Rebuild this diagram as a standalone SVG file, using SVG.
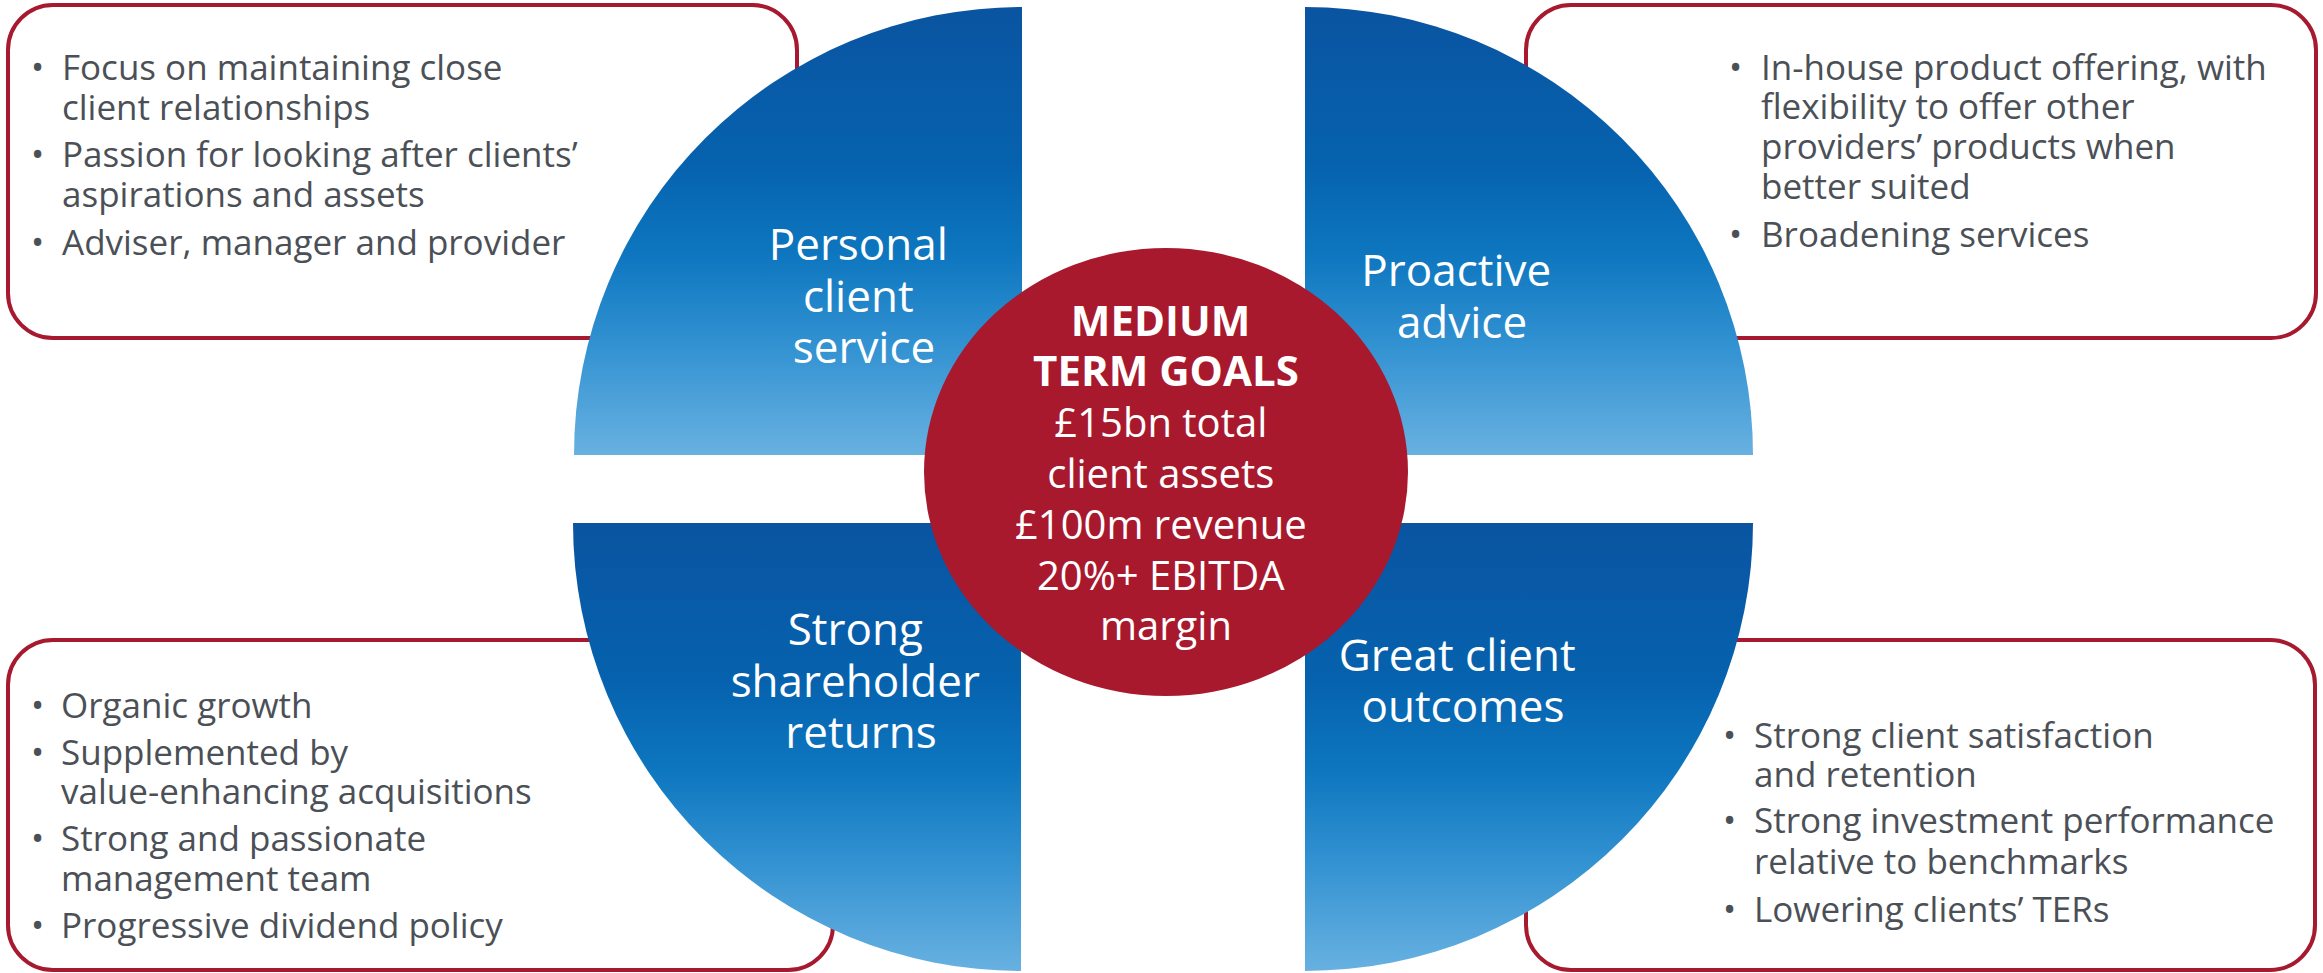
<svg xmlns="http://www.w3.org/2000/svg" width="2323" height="973" viewBox="0 0 2323 973">
  <defs>
    <linearGradient id="blueFade" x1="0" y1="0" x2="0" y2="1">
      <stop offset="0" stop-color="#0a54a1"/>
      <stop offset="0.35" stop-color="#0662ae"/>
      <stop offset="0.55" stop-color="#0d76bf"/>
      <stop offset="0.75" stop-color="#3191d1"/>
      <stop offset="1" stop-color="#68b1e1"/>
    </linearGradient>
    <style>
      .box { fill: #ffffff; stroke: #a6192e; stroke-width: 4; }
      .quad { fill: url(#blueFade); }
      .goal { fill: #a8192e; }
      .bullet { font-family: "Open Sans", "Noto Sans", sans-serif; font-size: 35px; fill: #4b5057; }
      .label { font-family: "Open Sans", "Noto Sans", sans-serif; font-size: 44px; fill: #ffffff; text-anchor: middle; }
      .goalhead { font-family: "Open Sans", "Noto Sans", sans-serif; font-size: 42px; font-weight: bold; fill: #ffffff; text-anchor: middle; }
      .goaltext { font-family: "Open Sans", "Noto Sans", sans-serif; font-size: 40px; fill: #ffffff; text-anchor: middle; }
    </style>
  </defs>

  <!-- Outlined detail boxes (sit underneath the quadrants) -->
  <g id="box-personal">
    <rect class="box" x="8" y="5" width="789" height="333" rx="45" ry="45"/>
    <text class="bullet">
      <tspan x="31" y="80">•</tspan><tspan x="62" y="80">Focus on maintaining close</tspan>
      <tspan x="62" y="120">client relationships</tspan>
      <tspan x="31" y="167">•</tspan><tspan x="62" y="167">Passion for looking after clients’</tspan>
      <tspan x="62" y="207">aspirations and assets</tspan>
      <tspan x="31" y="255">•</tspan><tspan x="62" y="255">Adviser, manager and provider</tspan>
    </text>
  </g>

  <g id="box-advice">
    <rect class="box" x="1526" y="5" width="790" height="333" rx="45" ry="45"/>
    <text class="bullet">
      <tspan x="1729" y="80">•</tspan><tspan x="1761" y="80">In-house product offering, with</tspan>
      <tspan x="1761" y="119">flexibility to offer other</tspan>
      <tspan x="1761" y="159">providers’ products when</tspan>
      <tspan x="1761" y="199">better suited</tspan>
      <tspan x="1729" y="247">•</tspan><tspan x="1761" y="247">Broadening services</tspan>
    </text>
  </g>

  <g id="box-returns">
    <rect class="box" x="8" y="640" width="825" height="330" rx="45" ry="45"/>
    <text class="bullet">
      <tspan x="31" y="718">•</tspan><tspan x="61" y="718">Organic growth</tspan>
      <tspan x="31" y="765">•</tspan><tspan x="61" y="765">Supplemented by</tspan>
      <tspan x="61" y="804">value-enhancing acquisitions</tspan>
      <tspan x="31" y="851">•</tspan><tspan x="61" y="851">Strong and passionate</tspan>
      <tspan x="61" y="891">management team</tspan>
      <tspan x="31" y="938">•</tspan><tspan x="61" y="938">Progressive dividend policy</tspan>
    </text>
  </g>

  <g id="box-outcomes">
    <rect class="box" x="1526" y="640" width="789" height="330" rx="45" ry="45"/>
    <text class="bullet">
      <tspan x="1723" y="748">•</tspan><tspan x="1754" y="748">Strong client satisfaction</tspan>
      <tspan x="1754" y="787">and retention</tspan>
      <tspan x="1723" y="833">•</tspan><tspan x="1754" y="833">Strong investment performance</tspan>
      <tspan x="1754" y="874">relative to benchmarks</tspan>
      <tspan x="1723" y="922">•</tspan><tspan x="1754" y="922">Lowering clients’ TERs</tspan>
    </text>
  </g>

  <!-- Four quarter-disc pillars -->
  <g id="quad-personal">
    <path class="quad" d="M1022,455 L574,455 A448,448 0 0 1 1022,7 Z"/>
    <text class="label">
      <tspan x="864" y="260">Personal</tspan>
      <tspan x="864" y="312">client</tspan>
      <tspan x="864" y="363">service</tspan>
    </text>
  </g>

  <g id="quad-advice">
    <path class="quad" d="M1305,455 L1305,7 A448,448 0 0 1 1753,455 Z"/>
    <text class="label">
      <tspan x="1462" y="286">Proactive</tspan>
      <tspan x="1462" y="338">advice</tspan>
    </text>
  </g>

  <g id="quad-returns">
    <path class="quad" d="M1021,523 L1021,971 A448,448 0 0 1 573,523 Z"/>
    <text class="label">
      <tspan x="861" y="645">Strong</tspan>
      <tspan x="861" y="697">shareholder</tspan>
      <tspan x="861" y="748">returns</tspan>
    </text>
  </g>

  <g id="quad-outcomes">
    <path class="quad" d="M1305,523 L1753,523 A448,448 0 0 1 1305,971 Z"/>
    <text class="label">
      <tspan x="1463" y="671">Great client</tspan>
      <tspan x="1463" y="722">outcomes</tspan>
    </text>
  </g>

  <!-- Central goals disc -->
  <g id="goals">
    <ellipse class="goal" cx="1166" cy="472" rx="242" ry="224"/>
    <text class="goalhead">
      <tspan x="1166" y="336">MEDIUM</tspan>
      <tspan x="1166" y="386">TERM GOALS</tspan>
    </text>
    <text class="goaltext">
      <tspan x="1166" y="437">£15bn total</tspan>
      <tspan x="1166" y="488">client assets</tspan>
      <tspan x="1166" y="539">£100m revenue</tspan>
      <tspan x="1166" y="590">20%+ EBITDA</tspan>
      <tspan x="1166" y="640">margin</tspan>
    </text>
  </g>
</svg>
